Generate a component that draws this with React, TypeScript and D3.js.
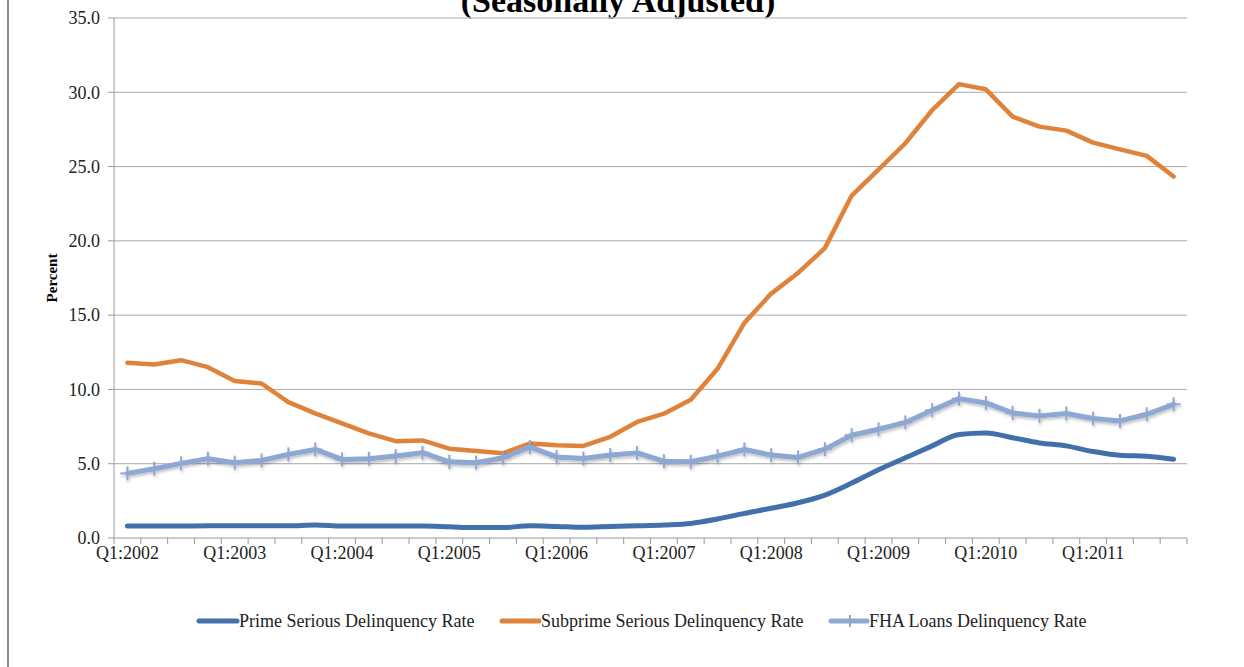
import React from "react";
import * as d3 from "d3";

const years = [2002, 2003, 2004, 2005, 2006, 2007, 2008, 2009, 2010, 2011];
const quarters = years.flatMap((y) => [1, 2, 3, 4].map((q) => `Q${q}:${y}`));
const yTicks = [0, 5, 10, 15, 20, 25, 30, 35];

const primeRate = [
  0.8, 0.8, 0.8, 0.82, 0.82, 0.82, 0.82, 0.87, 0.8, 0.8,
  0.8, 0.8, 0.75, 0.7, 0.7, 0.83, 0.78, 0.72, 0.77, 0.82,
  0.88, 0.98, 1.28, 1.66, 2.0, 2.37, 2.89, 3.7, 4.6, 5.4,
  6.2, 6.97, 7.07, 6.75, 6.4, 6.2, 5.82, 5.57, 5.5, 5.3,
];
const subprimeRate = [
  11.79, 11.68, 11.97, 11.5, 10.56, 10.4, 9.15, 8.39, 7.71, 7.04,
  6.52, 6.57, 6.01, 5.85, 5.7, 6.36, 6.25, 6.2, 6.81, 7.81,
  8.37, 9.3, 11.39, 14.48, 16.45, 17.84, 19.51, 23.05, 24.8, 26.57,
  28.8, 30.55, 30.2, 28.36, 27.69, 27.42, 26.61, 26.16, 25.72, 24.33,
];
const fhaRate = [
  4.35, 4.66, 5.02, 5.34, 5.07, 5.22, 5.63, 5.96, 5.29, 5.34,
  5.52, 5.74, 5.13, 5.07, 5.4, 6.13, 5.46, 5.35, 5.58, 5.73,
  5.17, 5.13, 5.51, 5.96, 5.58, 5.42, 5.98, 6.92, 7.32, 7.78,
  8.6, 9.38, 9.09, 8.42, 8.22, 8.38, 8.04, 7.88, 8.33, 9.0,
];

const seriesNames = [
  "Prime Serious Delinquency Rate",
  "Subprime Serious Delinquency Rate",
  "FHA Loans Delinquency Rate",
];
const colors = ["#4170AB", "#E0833A", "#8EA7D3"];

const W = 1244;
const H = 667;
const left = 114;
const right = 1187;
const top = 18;
const bottom = 538;
const font = "'Liberation Serif', 'Times New Roman', serif";

export default function App() {
  const x = d3.scaleBand<string>().domain(quarters).range([left, right]).padding(0);
  const cx = (q: string) => (x(q) as number) + x.bandwidth() / 2;
  const y = d3.scaleLinear().domain([0, 35]).range([bottom, top]);

  const lineLinear = d3
    .line<number>()
    .x((_, i) => cx(quarters[i]))
    .y((d) => y(d));
  const lineSmooth = d3
    .line<number>()
    .x((_, i) => cx(quarters[i]))
    .y((d) => y(d))
    .curve(d3.curveMonotoneX);

  const boundaries = quarters.map((q) => x(q) as number).concat([right]);

  const legendItems = [
    { sx: 199, tx: 239 },
    { sx: 502, tx: 541 },
    { sx: 831, tx: 869 },
  ];

  return (
    <svg
      width={W}
      height={H}
      style={{ position: "absolute", left: 0, top: 0, background: "#fff" }}
      fontFamily={font}
    >
      <defs>
        <filter id="shadow" x="-5%" y="-20%" width="110%" height="140%">
          <feGaussianBlur in="SourceAlpha" stdDeviation="1.5" />
          <feOffset dx="1" dy="2" result="b" />
          <feComponentTransfer>
            <feFuncA type="linear" slope="0.25" />
          </feComponentTransfer>
          <feMerge>
            <feMergeNode />
            <feMergeNode in="SourceGraphic" />
          </feMerge>
        </filter>
      </defs>
      <rect x={0} y={0} width={W} height={H} fill="#fff" />
      <line x1={8} x2={8} y1={0} y2={H} stroke="#8a8a8a" strokeWidth={2} />

      <text
        x={618}
        y={12}
        textAnchor="middle"
        fontSize={34}
        fontWeight="bold"
        fill="#000"
      >
        (Seasonally Adjusted)
      </text>

      {/* gridlines */}
      {yTicks.slice(1).map((t) => (
        <line
          key={t}
          x1={left}
          x2={right}
          y1={y(t)}
          y2={y(t)}
          stroke={t === 35 ? "#c8c8c8" : "#a9a9a9"}
          strokeWidth={t === 35 ? 1.5 : 1}
        />
      ))}

      {/* y axis */}
      <line x1={left} x2={left} y1={top} y2={bottom} stroke="#9a9a9a" />
      {yTicks.map((t) => (
        <g key={t}>
          <line x1={left - 6} x2={left} y1={y(t)} y2={y(t)} stroke="#9a9a9a" />
          <text
            x={100}
            y={y(t)}
            dy="0.35em"
            textAnchor="end"
            fontSize={18}
            fill="#222"
          >
            {t.toFixed(1)}
          </text>
        </g>
      ))}

      {/* x axis */}
      <line x1={left} x2={right} y1={bottom} y2={bottom} stroke="#9a9a9a" />
      {boundaries.map((b, i) => (
        <line key={i} x1={b} x2={b} y1={bottom} y2={bottom + 6} stroke="#9a9a9a" />
      ))}
      {quarters.map((q, i) =>
        i % 4 === 0 ? (
          <text
            key={q}
            x={cx(q)}
            y={bottom + 21}
            textAnchor="middle"
            fontSize={18}
            fill="#222"
          >
            {q}
          </text>
        ) : null
      )}

      <text
        transform={`translate(57,278) rotate(-90)`}
        textAnchor="middle"
        fontSize={15}
        fontWeight="bold"
        fill="#000"
      >
        Percent
      </text>

      {/* series */}
      <path
        d={lineSmooth(primeRate) || ""}
        fill="none"
        stroke={colors[0]}
        strokeWidth={5}
        strokeLinecap="round"
        strokeLinejoin="round"
      />
      <path
        d={lineLinear(subprimeRate) || ""}
        fill="none"
        stroke={colors[1]}
        strokeWidth={4.5}
        strokeLinecap="round"
        strokeLinejoin="round"
      />
      <g filter="url(#shadow)">
        <path
          d={lineLinear(fhaRate) || ""}
          fill="none"
          stroke={colors[2]}
          strokeWidth={5}
          strokeLinecap="round"
          strokeLinejoin="round"
        />
        {fhaRate.map((v, i) => (
          <g key={i}>
            <line
              x1={cx(quarters[i])}
              x2={cx(quarters[i])}
              y1={y(v) - 7}
              y2={y(v) + 7}
              stroke={colors[2]}
              strokeWidth={2}
            />
            <line
              x1={cx(quarters[i]) - 7}
              x2={cx(quarters[i]) + 7}
              y1={y(v)}
              y2={y(v)}
              stroke={colors[2]}
              strokeWidth={2}
            />
          </g>
        ))}
      </g>

      {/* legend */}
      {seriesNames.map((name, i) => (
        <g key={name}>
          <line
            x1={legendItems[i].sx}
            x2={legendItems[i].tx - 2}
            y1={621}
            y2={621}
            stroke={colors[i]}
            strokeWidth={5}
            strokeLinecap="round"
          />
          {i === 2 ? (
            <line
              x1={(legendItems[i].sx + legendItems[i].tx) / 2}
              x2={(legendItems[i].sx + legendItems[i].tx) / 2}
              y1={615}
              y2={627}
              stroke={colors[i]}
              strokeWidth={2}
            />
          ) : null}
          <text x={legendItems[i].tx} y={627} fontSize={18} fill="#222">
            {name}
          </text>
        </g>
      ))}
    </svg>
  );
}
